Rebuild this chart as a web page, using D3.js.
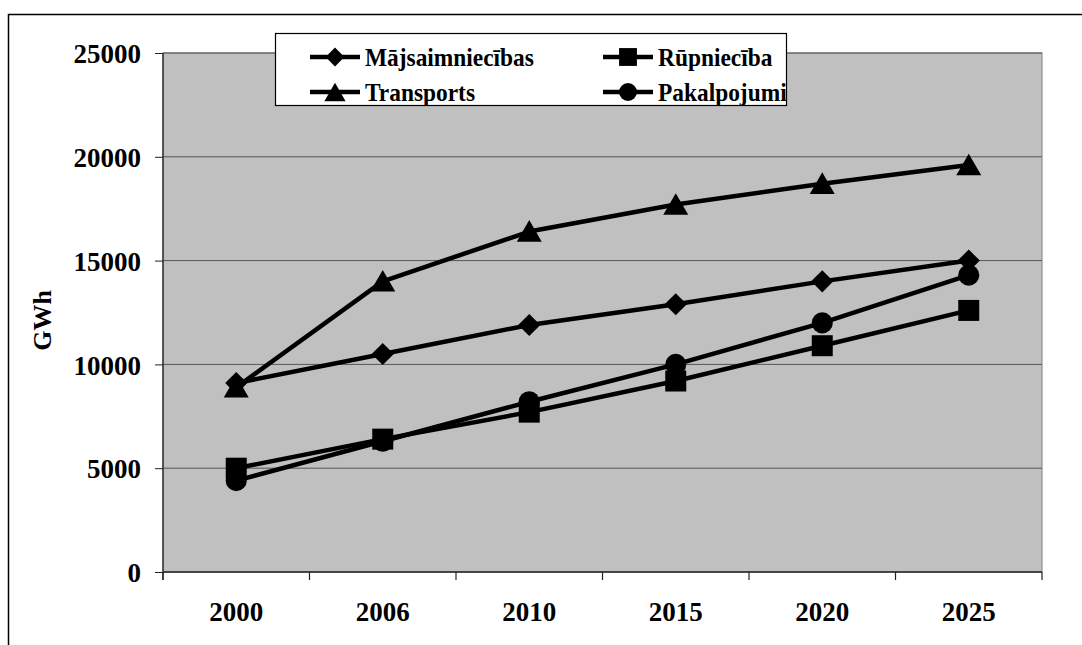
<!DOCTYPE html>
<html>
<head>
<meta charset="utf-8">
<script src="https://cdn.jsdelivr.net/npm/d3@7"></script>
<style>
  html, body { margin: 0; padding: 0; background: #fff; }
  svg { display: block; }
</style>
</head>
<body>
<svg id="chart" width="1082" height="645"></svg>
<script>
// Electricity demand by sector, GWh
const years = ["2000", "2006", "2010", "2015", "2020", "2025"];
const majsaimniecibas = [9100, 10500, 11900, 12900, 14000, 15000];
const rupnieciba      = [5000, 6400, 7700, 9200, 10900, 12600];
const transports      = [8900, 14000, 16400, 17700, 18700, 19600];
const pakalpojumi     = [4400, 6300, 8200, 10000, 12000, 14300];
const yTicks = [0, 5000, 10000, 15000, 20000, 25000];
const yLabel = "GWh";

const series = [
  { name: "Mājsaimniecības", values: majsaimniecibas, marker: "diamond" },
  { name: "Rūpniecība",      values: rupnieciba,      marker: "square" },
  { name: "Transports",      values: transports,      marker: "triangle" },
  { name: "Pakalpojumi",     values: pakalpojumi,     marker: "circle" }
];

const FONT = "'Liberation Serif', 'Times New Roman', serif";
const svg = d3.select("#chart");
const plot = { left: 163, top: 53, right: 1042, bottom: 572 };

function styleText(sel, size) {
  return sel.style("font-family", FONT).style("font-weight", "bold")
    .style("font-size", size + "px").attr("fill", "#000");
}

// outer chart frame (runs past the right and bottom edges)
svg.append("rect")
  .attr("x", 8.5).attr("y", 14.5)
  .attr("width", 1100).attr("height", 700)
  .attr("fill", "#fff").attr("stroke", "#000").attr("stroke-width", 1.5);

const x = d3.scaleBand().domain(years).range([plot.left, plot.right]).padding(0);
const y = d3.scaleLinear().domain([0, 25000]).range([plot.bottom, plot.top]);

// plot area
svg.append("rect")
  .attr("x", plot.left).attr("y", plot.top)
  .attr("width", plot.right - plot.left).attr("height", plot.bottom - plot.top)
  .attr("fill", "#c0c0c0").attr("stroke", "#808080").attr("stroke-width", 1);

// gridlines
svg.append("g").selectAll("line")
  .data(yTicks.filter(d => d > 0))
  .join("line")
  .attr("x1", plot.left).attr("x2", plot.right)
  .attr("y1", d => y(d)).attr("y2", d => y(d))
  .attr("stroke", "#555").attr("stroke-width", 1);

// y axis
const yAxis = svg.append("g")
  .attr("transform", `translate(${plot.left},0)`)
  .call(d3.axisLeft(y).tickValues(yTicks).tickSize(8).tickPadding(14).tickFormat(d3.format("d")));
yAxis.select(".domain").attr("stroke", "#222").attr("stroke-width", 1.3)
  .attr("d", `M0,${plot.top}V${plot.bottom + 8}`);
yAxis.selectAll(".tick line").attr("stroke", "#222");
styleText(yAxis.selectAll(".tick text"), 27).attr("dy", "0.36em");

// x axis: ticks at category boundaries
const xAxisG = svg.append("g").attr("transform", `translate(0,${plot.bottom})`);
xAxisG.append("line")
  .attr("x1", plot.left).attr("x2", plot.right)
  .attr("stroke", "#222").attr("stroke-width", 1.3);
const boundaries = years.map(d => x(d)).concat([x(years[years.length - 1]) + x.bandwidth()]);
xAxisG.selectAll("line.tk")
  .data(boundaries)
  .join("line").attr("class", "tk")
  .attr("x1", d => d).attr("x2", d => d)
  .attr("y1", 0).attr("y2", 8)
  .attr("stroke", "#222").attr("stroke-width", 1.2);
styleText(xAxisG.selectAll("text")
  .data(years)
  .join("text")
  .attr("x", d => x(d) + x.bandwidth() / 2)
  .attr("y", 49)
  .attr("text-anchor", "middle")
  .text(d => d), 27);

// y axis title
styleText(svg.append("text")
  .attr("transform", `translate(51,${(plot.top + plot.bottom) / 2 + 8}) rotate(-90)`)
  .attr("text-anchor", "middle")
  .text(yLabel), 26);

// marker shapes
function markerPath(kind, scale) {
  const s = scale || 1;
  if (kind === "diamond") return d3.symbol(d3.symbolSquare, 245 * s * s)();
  if (kind === "square") return d3.symbol(d3.symbolSquare, 441 * s * s)();
  if (kind === "circle") return d3.symbol(d3.symbolCircle, 350 * s * s)();
  return d3.symbol(d3.symbolTriangle, 270 * s * s)();
}
function markerTransform(kind, cx, cy) {
  if (kind === "diamond") return `translate(${cx},${cy}) rotate(45)`;
  if (kind === "triangle") return `translate(${cx},${cy + 3})`;
  return `translate(${cx},${cy})`;
}

const line = d3.line()
  .x((d, i) => x(years[i]) + x.bandwidth() / 2)
  .y(d => y(d));

series.forEach(s => {
  const g = svg.append("g");
  g.append("path")
    .attr("d", line(s.values))
    .attr("fill", "none").attr("stroke", "#000")
    .attr("stroke-width", 4.5).attr("stroke-linejoin", "round");
  g.selectAll("path.m")
    .data(s.values)
    .join("path").attr("class", "m")
    .attr("d", markerPath(s.marker))
    .attr("transform", (d, i) => markerTransform(s.marker, x(years[i]) + x.bandwidth() / 2, y(d)))
    .attr("fill", "#000");
});

// legend
const legend = svg.append("g");
legend.append("rect")
  .attr("x", 275.5).attr("y", 33.5).attr("width", 511).attr("height", 72)
  .attr("fill", "#fff").attr("stroke", "#000").attr("stroke-width", 1.2);
const legendPos = [
  { s: series[0], lx: 310, ly: 57 },
  { s: series[1], lx: 603, ly: 57 },
  { s: series[2], lx: 310, ly: 92 },
  { s: series[3], lx: 603, ly: 92 }
];
legendPos.forEach(p => {
  legend.append("line")
    .attr("x1", p.lx).attr("x2", p.lx + 50)
    .attr("y1", p.ly).attr("y2", p.ly)
    .attr("stroke", "#000").attr("stroke-width", 4.5);
  legend.append("path")
    .attr("d", markerPath(p.s.marker, 0.85))
    .attr("transform", markerTransform(p.s.marker, p.lx + 25, p.ly))
    .attr("fill", "#000");
  // condensed label
  styleText(legend.append("text")
    .attr("transform", `translate(${p.lx + 55},${p.ly}) scale(0.9,1)`)
    .attr("dy", "0.36em")
    .text(p.s.name), 26);
});
</script>
</body>
</html>
